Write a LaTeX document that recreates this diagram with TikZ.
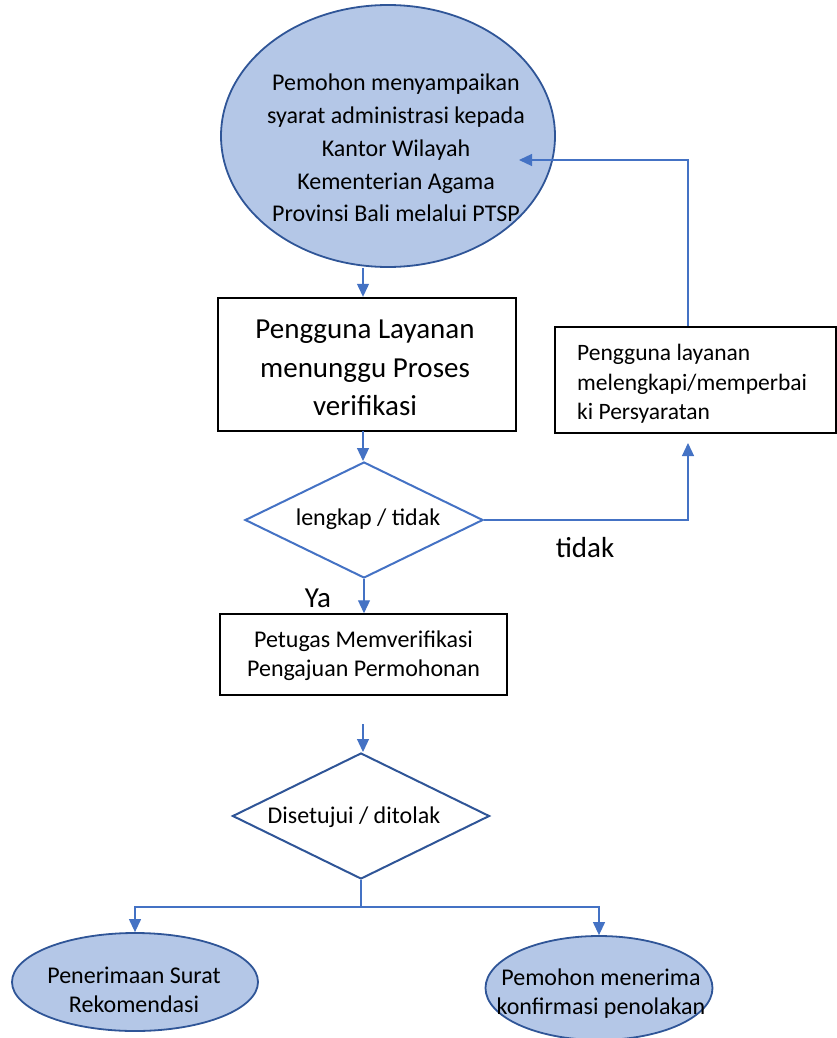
\documentclass[tikz,border=0pt]{standalone}
\usepackage{fontspec}
\setmainfont{Carlito}
\usetikzlibrary{shapes.geometric,arrows.meta}
\definecolor{fillblue}{HTML}{B4C7E7}
\definecolor{edgeblue}{HTML}{2F5597}
\definecolor{lineblue}{HTML}{4472C4}
\tikzset{
  oval/.style={ellipse, draw=edgeblue, fill=fillblue, line width=1.8pt, inner sep=0pt},
  stepbox/.style={rectangle, draw=black, inner sep=0pt},
  choice/.style={diamond, inner sep=0pt, line width=2pt},
  txt/.style={align=center, inner sep=0pt},
  conn/.style={draw=lineblue, line width=1.2pt, -{Triangle[length=13pt,width=12pt]}},
  plain/.style={draw=lineblue, line width=1.2pt}
}
\begin{document}
\begin{tikzpicture}[x=1pt,y=-1pt]
\useasboundingbox (0,0) rectangle (837,1038);

% start: submission of the requirements
\node[oval, minimum width=334pt, minimum height=262pt] (start) at (388,136) {};
\node[txt, font=\fontsize{24}{32.8}\selectfont] (startT) at (396,148)
  {Pemohon menyampaikan\\syarat administrasi kepada\\Kantor Wilayah\\Kementerian Agama\\Provinsi Bali melalui PTSP};

% waiting for verification
\node[stepbox, line width=2.4pt, minimum width=298pt, minimum height=133pt] (wait) at (367,364.5) {};
\node[txt, font=\fontsize{29}{38.5}\selectfont] (waitT) at (365,368)
  {Pengguna Layanan\\menunggu Proses\\verifikasi};

% completeness check
\node[choice, draw=lineblue, minimum width=238pt, minimum height=116pt] (check) at (364,520) {};
\node[txt, font=\fontsize{24}{28}\selectfont] (checkT) at (368,519) {lengkap / tidak};

% officer verification
\node[stepbox, line width=1.5pt, minimum width=287pt, minimum height=81pt] (verify) at (363.5,654.5) {};
\node[txt, font=\fontsize{24}{29}\selectfont] (verifyT) at (363.5,656)
  {Petugas Memverifikasi\\Pengajuan Permohonan};

% approval decision
\node[choice, draw=edgeblue, minimum width=257pt, minimum height=126pt] (decide) at (361,816) {};
\node[txt, font=\fontsize{24}{28}\selectfont] (decideT) at (354,817) {Disetujui / ditolak};

% fix the requirements
\node[stepbox, line width=2.4pt, minimum width=281pt, minimum height=106pt] (fix) at (695.5,380) {};
\node[txt, align=left, anchor=west, font=\fontsize{23.5}{29.5}\selectfont] (fixT) at (577,384)
  {Pengguna layanan\\melengkapi/memperbai\\ki Persyaratan};

% outcomes
\node[oval, minimum width=246pt, minimum height=98pt] (okL) at (135,982) {};
\node[txt, font=\fontsize{24}{28.5}\selectfont] (okLT) at (134,990) {Penerimaan Surat\\Rekomendasi};
\node[oval, minimum width=227pt, minimum height=104pt] (noR) at (599,988) {};
\node[txt, font=\fontsize{24}{29}\selectfont] (noRT) at (601,994) {Pemohon menerima\\konfirmasi penolakan};

% labels
\node[txt, font=\fontsize{29}{32}\selectfont] (ya) at (318,598) {Ya};
\node[txt, font=\fontsize{29}{32}\selectfont] (tidak) at (585,548) {tidak};

% connectors
\coordinate (down1) at (363,268);
\draw[conn] (down1) -- (down1 |- wait.north);
\coordinate (down2) at (363,431);
\draw[conn] (down2) -- (down2 |- check.north);
\draw[conn] (check.south) -- (check.south |- verify.north);
\coordinate (down3) at (363,724);
\draw[conn] (down3) -- (down3 |- decide.north);

\coordinate (fixIn) at (688,443);
\draw[conn] (check.east) -| (fixIn);
\coordinate (loopTop) at (688,160);
\coordinate (back) at (519,160);
\draw[conn] (fix.north -| loopTop) -- (loopTop) -- (back);

\coordinate (split) at (361,907);
\draw[plain] (decide.south) -- (split);
\draw[conn] (split) -| (okL.north);
\draw[conn] (split) -| (noR.north);
\end{tikzpicture}
\end{document}
